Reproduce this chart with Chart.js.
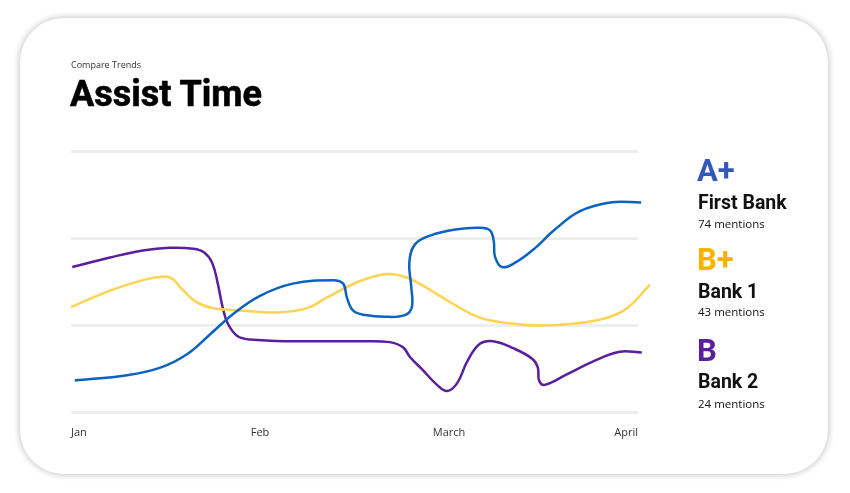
<!DOCTYPE html>
<html>
<head>
<meta charset="utf-8">
<script src="https://cdn.jsdelivr.net/npm/chart.js@4/dist/chart.umd.min.js"></script>
<style>
  html, body { margin:0; padding:0; width:850px; height:493px; background:#ffffff; overflow:hidden; }
  #card { position:absolute; left:20px; top:18px; width:808px; height:456px; border-radius:44px;
          background:#fff; box-shadow:0 0 6px 1px rgba(0,0,0,0.22); }
  #wrap { position:absolute; left:0; top:0; width:850px; height:493px; }
  .t { position:absolute; white-space:nowrap; }
  #sub { left:71px; top:58px; font:9px "Open Sans", sans-serif; color:#333; }
  #title { left:70px; top:73px; font:bold 36px Roboto, sans-serif; color:#000; -webkit-text-stroke:0.6px #000; }
  .grade { font:bold 31px Roboto, sans-serif; left:697px; }
  .name { font:bold 19.5px Roboto, sans-serif; color:#111; left:698px; }
  .men { font:11.5px "Open Sans", sans-serif; color:#111; left:698px; }
</style>
</head>
<body>
<div id="card"></div>
<div id="wrap"><canvas id="c" width="850" height="493"></canvas></div>
<div class="t" id="sub">Compare Trends</div>
<div class="t" id="title">Assist Time</div>
<div id="legend"></div>
<script>
// x in days from Jan 1 (Jan=0, Feb=30, March=60, April=90); y in minutes
const tickLabels = ['Jan', 'Feb', 'March', 'April'];
const tickValues = [0, 30, 60, 90];

const firstBank = [[0.6,3.7],[8.9,4.3],[14.3,5.2],[18.4,6.7],[22.1,9.0],[25.7,11.3],[30.0,13.4],[35.2,14.8],[41.6,15.2],[43.2,14.8],[43.8,13.2],[44.8,11.7],[46.7,11.2],[49.8,11.0],[53.0,11.2],[54.1,12.1],[54.0,14.5],[53.7,17.2],[54.6,19.3],[57.0,20.3],[61.0,21.0],[64.9,21.2],[66.5,20.9],[67.1,19.7],[67.3,17.9],[68.4,16.7],[70.5,17.2],[73.7,18.9],[76.8,21.0],[80.8,23.1],[85.6,24.1],[90.5,24.1]];
const bank1 = [[0,12.1],[6.2,14.0],[11.4,15.2],[14.4,15.6],[16.0,15.4],[17.6,14.2],[19.7,12.8],[22.4,12.0],[27.3,11.7],[32.7,11.5],[37.5,12.0],[40.6,13.2],[45.9,15.1],[50.2,15.9],[53.3,15.5],[56.5,14.3],[60.6,12.5],[64.9,10.9],[69.2,10.3],[74.4,10.0],[79.7,10.2],[85.1,10.9],[88.3,12.0],[91.9,14.7]];
const bank2 = [[0.2,16.7],[6.2,17.8],[11.4,18.6],[15.7,18.9],[19.4,18.8],[21.1,18.4],[22.4,17.2],[23.3,14.8],[24.1,12.0],[24.9,10.2],[26.4,8.8],[28.4,8.4],[35.2,8.2],[45.9,8.2],[50.6,8.1],[52.7,7.5],[53.8,6.4],[55.7,5.0],[58.1,3.2],[59.7,2.5],[61.3,3.4],[62.9,5.9],[64.9,7.9],[67.0,8.2],[70.2,7.4],[73.2,6.2],[74.1,5.2],[74.3,3.7],[75.2,3.2],[78.7,4.4],[82.9,5.9],[87.1,7.0],[90.6,6.9]];

const seriesNames = ['First Bank', 'Bank 1', 'Bank 2'];
const grades = ['A+', 'B+', 'B'];
const mentions = [74, 43, 24];
const lineColors = ['#0b62c0', '#fcd452', '#5b1e9d'];
const gradeColors = ['#3458b8', '#f9b200', '#5a1f9c'];

// legend
const legendTops = [[152, 191, 216], [241, 280, 304], [332, 370, 396]];
const leg = document.getElementById('legend');
seriesNames.forEach((n, i) => {
  const g = document.createElement('div'); g.className = 't grade'; g.style.top = legendTops[i][0] + 'px';
  g.style.color = gradeColors[i]; g.textContent = grades[i]; leg.appendChild(g);
  const nm = document.createElement('div'); nm.className = 't name'; nm.style.top = legendTops[i][1] + 'px';
  nm.textContent = n; leg.appendChild(nm);
  const m = document.createElement('div'); m.className = 't men'; m.style.top = legendTops[i][2] + 'px';
  m.textContent = mentions[i] + ' mentions'; leg.appendChild(m);
});

const toPts = arr => arr.map(p => ({x: p[0], y: p[1]}));
new Chart(document.getElementById('c'), {
  type: 'line',
  data: {
    datasets: [firstBank, bank1, bank2].map((d, i) => ({
      label: seriesNames[i],
      data: toPts(d),
      borderColor: lineColors[i],
      borderWidth: 2.5,
      pointRadius: 0,
      tension: 0.4,
      fill: false,
      clip: false
    }))
  },
  options: {
    responsive: false,
    animation: false,
    events: [],
    layout: { padding: { left: 71, right: 212, top: 151, bottom: 49 } },
    plugins: { legend: { display: false }, tooltip: { enabled: false } },
    scales: {
      x: {
        type: 'linear', min: 0, max: 90,
        afterBuildTicks: s => { s.ticks = tickValues.map(v => ({value: v})); },
        grid: { display: false },
        border: { display: false },
        ticks: {
          callback: (v) => tickLabels[tickValues.indexOf(v)],
          align: 'inner', padding: 5, color: '#333',
          font: { family: 'Open Sans', size: 11 }, maxRotation: 0
        }
      },
      y: {
        min: 0, max: 30,
        ticks: { display: false, stepSize: 10 },
        grid: { color: '#eeeeee', lineWidth: 3, drawTicks: false },
        border: { display: false },
        afterFit: s => { s.width = 0; }
      }
    }
  }
});
</script>
</body>
</html>
